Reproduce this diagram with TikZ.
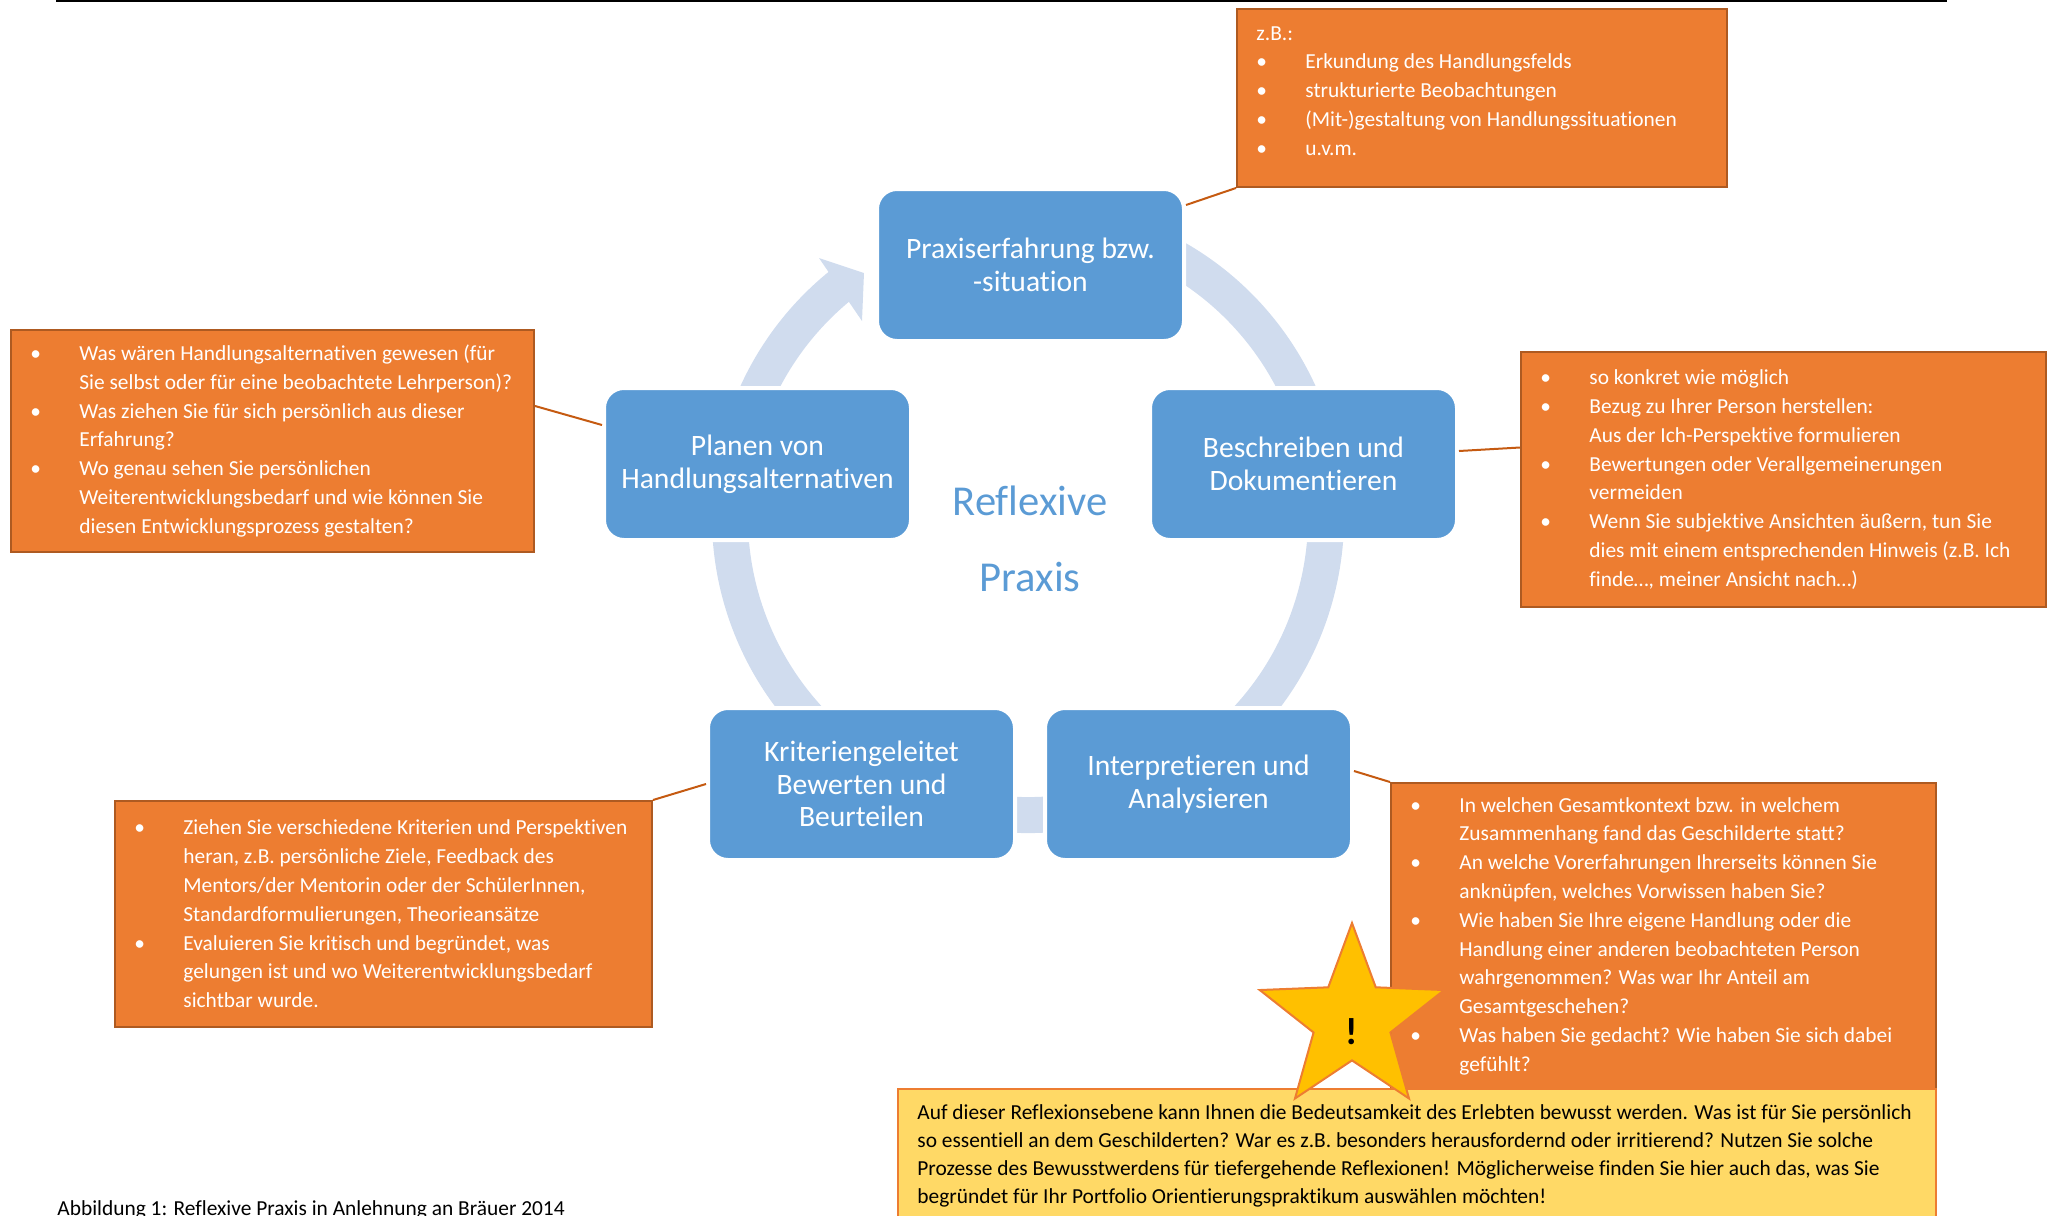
\documentclass[tikz,border=0pt]{standalone}
\usepackage{fontspec}
\setmainfont{Carlito}[Ligatures=NoCommon]
\usetikzlibrary{shapes.geometric}

\definecolor{kastenblau}{RGB}{91,155,213}
\definecolor{ringblau}{RGB}{208,220,238}
\definecolor{notizorange}{RGB}{237,125,49}
\definecolor{notizrand}{RGB}{174,90,33}
\definecolor{leitung}{RGB}{197,90,17}
\definecolor{hinweisgelb}{RGB}{255,217,102}
\definecolor{sterngelb}{RGB}{255,192,0}

\newcommand{\punkt}{\makebox[24.5pt][l]{\textbullet}}
\newcommand{\weiter}{\hspace*{24.5pt}}

\tikzset{
  phase/.style={draw=white, line width=2pt, fill=kastenblau, rounded corners=10pt,
    minimum width=153.5pt, minimum height=76pt, inner sep=0pt, anchor=north west,
    text=white, align=center, font=\fontsize{14.8}{16.4}\selectfont},
  notiz/.style={draw=notizrand, line width=1pt, fill=notizorange, inner sep=0pt, anchor=north west},
  notiztext/.style={text=white, align=left, inner sep=0pt, anchor=west,
    font=\fontsize{10.7}{14.4}\selectfont},
  leit/.style={draw=leitung, line width=1pt},
  ring/.style={draw=ringblau, line width=18pt},
}

\begin{document}
\begin{tikzpicture}[x=0.5pt,y=0.5pt,yscale=-1]
\useasboundingbox (0,0) rectangle (2053,1216);

% Kopflinie
\draw[line width=0.8pt] (56,1) -- (1947,1);

% Kreislauf
\draw[ring] (1028,517) ++(-75:298) arc[start angle=-75, end angle=231.5, radius=298];
\fill[ringblau] (819,258) -- (864,273) -- (862,321) -- cycle;

% Phasen
\node[phase] (erfahrung) at (875,187) {Praxiserfahrung bzw.\\-situation};
\node[phase] (beschreiben) at (1148,386) {Beschreiben und\\Dokumentieren};
\node[phase] (interpret) at (1043,706) {Interpretieren und\\Analysieren};
\node[phase] (bewerten) at (706,706) {Kriteriengeleitet\\Bewerten und\\Beurteilen};
\node[phase] (planen) at (602,386) {Planen von\\Handlungsalternativen};

\node[text=kastenblau, align=center, font=\fontsize{21.3}{38}\selectfont] (mitte) at (1030,539) {Reflexive\\Praxis};

% Notizen
\node[notiz, minimum width=245pt, minimum height=89pt] (bspbox) at (1236,8) {};
\node[notiztext] (bsptext) at ([xshift=10pt,yshift=-3.5pt]bspbox.west) {z.B.:\\
\punkt Erkundung des Handlungsfelds\\
\punkt strukturierte Beobachtungen\\
\punkt (Mit-)gestaltung von Handlungssituationen\\
\punkt u.v.m.};

\node[notiz, minimum width=261.5pt, minimum height=111pt] (alternbox) at (10,329) {};
\node[notiztext] (alterntext) at ([xshift=10pt]alternbox.west) {\punkt Was wären Handlungsalternativen gewesen (für\\
\weiter Sie selbst oder für eine beobachtete Lehrperson)?\\
\punkt Was ziehen Sie für sich persönlich aus dieser\\
\weiter Erfahrung?\\
\punkt Wo genau sehen Sie persönlichen\\
\weiter Weiterentwicklungsbedarf und wie können Sie\\
\weiter diesen Entwicklungsprozess gestalten?};

\node[notiz, minimum width=262.5pt, minimum height=127.5pt] (beschrbox) at (1520,351) {};
\node[notiztext] (beschrtext) at ([xshift=10pt]beschrbox.west) {\punkt so konkret wie möglich\\
\punkt Bezug zu Ihrer Person herstellen:\\
\weiter Aus der Ich-Perspektive formulieren\\
\punkt Bewertungen oder Verallgemeinerungen\\
\weiter vermeiden\\
\punkt Wenn Sie subjektive Ansichten äußern, tun Sie\\
\weiter dies mit einem entsprechenden Hinweis (z.B. Ich\\
\weiter finde…, meiner Ansicht nach…)};

\node[notiz, minimum width=268.5pt, minimum height=113pt] (bewertbox) at (114,800) {};
\node[notiztext] (bewerttext) at ([xshift=10pt]bewertbox.west) {\punkt Ziehen Sie verschiedene Kriterien und Perspektiven\\
\weiter heran, z.B. persönliche Ziele, Feedback des\\
\weiter Mentors/der Mentorin oder der SchülerInnen,\\
\weiter Standardformulierungen, Theorieansätze\\
\punkt Evaluieren Sie kritisch und begründet, was\\
\weiter gelungen ist und wo Weiterentwicklungsbedarf\\
\weiter sichtbar wurde.};

\node[notiz, minimum width=272.5pt, minimum height=153pt] (analysebox) at (1390,782) {};
\node[notiztext] (analysetext) at ([xshift=10pt]analysebox.west) {\punkt In welchen Gesamtkontext bzw. in welchem\\
\weiter Zusammenhang fand das Geschilderte statt?\\
\punkt An welche Vorerfahrungen Ihrerseits können Sie\\
\weiter anknüpfen, welches Vorwissen haben Sie?\\
\punkt Wie haben Sie Ihre eigene Handlung oder die\\
\weiter Handlung einer anderen beobachteten Person\\
\weiter wahrgenommen? Was war Ihr Anteil am\\
\weiter Gesamtgeschehen?\\
\punkt Was haben Sie gedacht? Wie haben Sie sich dabei\\
\weiter gefühlt?};

% Verbindungen
\draw[leit] ([yshift=9pt]erfahrung.north east) -- (bspbox.south west);
\draw[leit] ([yshift=-6.5pt]beschreiben.east) -- ([yshift=-16pt]beschrbox.west);
\draw[leit] ([yshift=-6.5pt]interpret.east) -- (analysebox.north west);
\draw[leit] (bewerten.west) -- (bewertbox.north east);
\draw[leit] ([yshift=19.5pt]planen.north west) -- ([yshift=38.5pt]alternbox.north east);

% Hinweis
\node[draw=notizorange, line width=0.8pt, fill=hinweisgelb, inner sep=0pt, anchor=north west,
  minimum width=519pt, minimum height=67pt] (hinweis) at (897,1088) {};
\node[anchor=west, align=left, inner sep=0pt, font=\fontsize{10.7}{14}\selectfont] (hinweistext)
  at ([xshift=10pt]hinweis.west) {Auf dieser Reflexionsebene kann Ihnen die Bedeutsamkeit des Erlebten bewusst werden. Was ist für Sie persönlich\\
so essentiell an dem Geschilderten? War es z.B. besonders herausfordernd oder irritierend? Nutzen Sie solche\\
Prozesse des Bewusstwerdens für tiefergehende Reflexionen! Möglicherweise finden Sie hier auch das, was Sie\\
begründet für Ihr Portfolio Orientierungspraktikum auswählen möchten!};

\node[star, star points=5, star point ratio=2.4, minimum size=97pt, inner sep=0pt,
  draw=notizorange, line width=1pt, fill=sterngelb] (warnung) at (1352,1020) {};
\node[font=\bfseries\fontsize{19}{19}\selectfont, inner sep=0pt] (ausruf) at ([yshift=6pt]warnung.center) {!};

\node[anchor=base west, inner sep=0pt, font=\fontsize{10.7}{12}\selectfont] (unterschrift) at (57,1215) {Abbildung 1: Reflexive Praxis in Anlehnung an Bräuer 2014};
\end{tikzpicture}
\end{document}
